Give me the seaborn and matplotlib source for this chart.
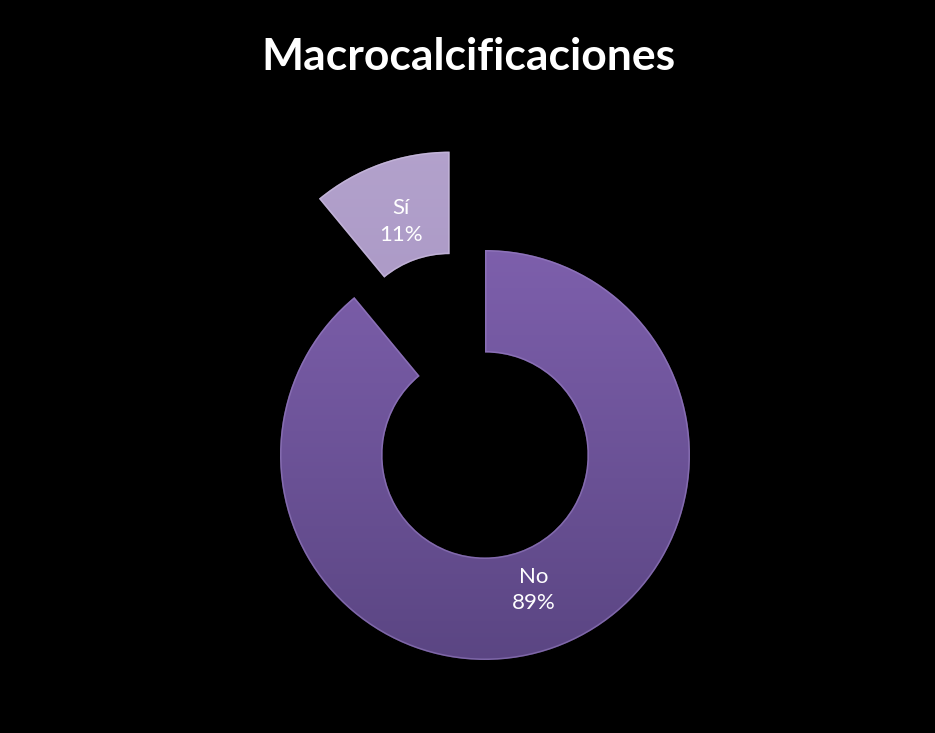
import numpy as np
import matplotlib
matplotlib.use("Agg")
import matplotlib.pyplot as plt
import seaborn as sns
from matplotlib.colors import LinearSegmentedColormap

# Data
categories = ["No", "Sí"]
percentages = [89, 11]
title_text = "Macrocalcificaciones"

# Colours (top -> bottom shading of each ring segment)
top_colors = ["#7e60ad", "#b3a2cc"]
bottom_colors = ["#5a4582", "#9f8bbd"]
edge_colors = ["#9b82c6", "#cfc2e2"]

sns.set_theme(style="white")
plt.rcParams["font.family"] = ["Lato", "DejaVu Sans"]

W, H, DPI = 935, 733, 100
fig = plt.figure(figsize=(W / DPI, H / DPI), dpi=DPI, facecolor="black")

# Ring centre and outer radius in pixels
cx, cy_top, R = 485, 455, 205
ax = fig.add_axes([0, 0, 1, 1])
ax.set_facecolor("black")

wedges, texts = ax.pie(
    percentages,
    startangle=90,
    counterclock=False,
    explode=[0, 0.51],
    radius=1.0,
    wedgeprops=dict(width=0.5, linewidth=0),
)

for i, w in enumerate(wedges):
    w.set_facecolor("none")
    # vertical gradient clipped to the wedge shape
    cmap = LinearSegmentedColormap.from_list(
        f"g{i}", sns.blend_palette([top_colors[i], bottom_colors[i]], 8, as_cmap=False)
    )
    cxw, cyw = w.center
    grad = np.linspace(0, 1, 256).reshape(-1, 1)
    im = ax.imshow(
        grad, cmap=cmap, aspect="auto",
        extent=(cxw - 1.05, cxw + 1.05, cyw - 1.05, cyw + 1.05),
        origin="upper", zorder=1, interpolation="bicubic",
    )
    im.set_clip_path(w)
    # light bevel rim
    rim = matplotlib.patches.Wedge(
        w.center, w.r, w.theta1, w.theta2, width=w.width,
        facecolor="none", edgecolor=edge_colors[i], linewidth=2.2, alpha=0.55, zorder=2,
    )
    ax.add_patch(rim)
    rim.set_clip_path(w)

# Labels at the middle of each segment, built from the same values
for i, w in enumerate(wedges):
    mid = np.deg2rad((w.theta1 + w.theta2) / 2)
    r_lab = 0.70
    x = w.center[0] + r_lab * np.cos(mid)
    y = w.center[1] + r_lab * np.sin(mid)
    ax.text(x, y, f"{categories[i]}\n{percentages[i]}%", color="white",
            ha="center", va="center", fontsize=16, linespacing=1.4, zorder=3)

ax.set_xlim(-cx / R, (W - cx) / R)
ax.set_ylim(-(H - cy_top) / R, cy_top / R)
ax.set_aspect("auto")
ax.axis("off")

fig.text(468 / W, 1 - 57 / H, title_text, color="white", fontsize=32,
         fontweight="bold", ha="center", va="center")

fig.savefig("out.png", dpi=DPI, facecolor="black")
